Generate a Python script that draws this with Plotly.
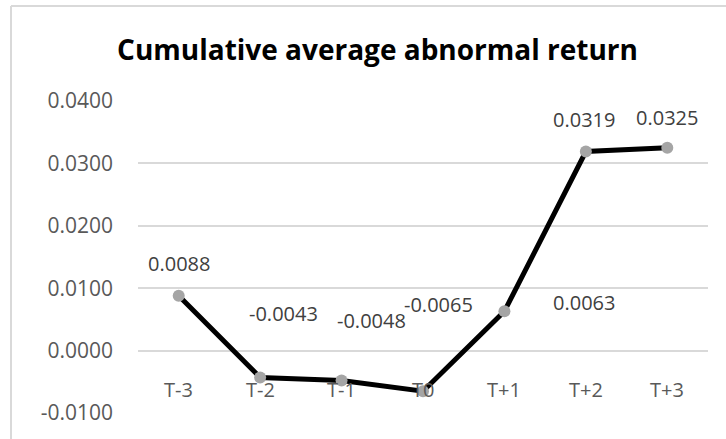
import plotly.graph_objects as go

categories = ["T-3", "T-2", "T-1", "T0", "T+1", "T+2", "T+3"]
values = [0.0088, -0.0043, -0.0048, -0.0065, 0.0063, 0.0319, 0.0325]
value_labels = ["0.0088", "-0.0043", "-0.0048", "-0.0065", "0.0063", "0.0319", "0.0325"]
y_ticks = [-0.01, 0.0, 0.01, 0.02, 0.03, 0.04]
y_tick_labels = ["-0.0100", "0.0000", "0.0100", "0.0200", "0.0300", "0.0400"]

# label offsets (pixels) as placed in the reference
label_dx = [0, 23, 30, 15, 80, -2, 0]
label_dy = [32, 64, 60, 87, 9, 32, 30]

FONT = "Open Sans"

fig = go.Figure()
fig.add_trace(go.Scatter(
    x=categories, y=values, mode="lines+markers",
    line=dict(color="black", width=5),
    marker=dict(color="#a5a5a5", size=12),
    hoverinfo="skip", showlegend=False,
))

ann = []
for c, v, t, dx, dy in zip(categories, values, value_labels, label_dx, label_dy):
    ann.append(dict(x=c, y=v, text=t, showarrow=False, xshift=dx, yshift=dy,
                    font=dict(family=FONT, size=20, color="#404040")))
for c in categories:
    ann.append(dict(x=c, y=0, text=c, showarrow=False, yshift=-39,
                    font=dict(family=FONT, size=20, color="#595959")))

W, H = 726, 439
ml, mr, mt, mb = 138, 18, 101, 26
pw, ph = W - ml - mr, H - mt - mb
bx = (11 - ml) / pw
by = (H - mb - 6) / ph

fig.update_layout(
    width=W, height=H,
    margin=dict(l=ml, r=mr, t=mt, b=mb),
    paper_bgcolor="white", plot_bgcolor="white",
    title=dict(text="<b>Cumulative average abnormal return</b>", x=0.52, xanchor="center",
               y=1 - 50 / H, yanchor="middle",
               font=dict(family=FONT, size=28, color="black")),
    xaxis=dict(type="category", range=[-0.5, 6.5], showticklabels=False,
               showgrid=False, zeroline=False, showline=False),
    yaxis=dict(range=[-0.01, 0.04], tickvals=y_ticks, ticktext=y_tick_labels,
               showgrid=True, gridcolor="#d9d9d9", gridwidth=1.5, zeroline=False,
               tickfont=dict(family=FONT, size=21, color="#595959"),
               ticks="", ticklabelstandoff=24, showline=False),
    annotations=ann,
    shapes=[
        dict(type="line", xref="paper", yref="paper", x0=bx, x1=1.3, y0=by, y1=by,
             line=dict(color="#d9d9d9", width=2)),
        dict(type="line", xref="paper", yref="paper", x0=bx, x1=bx, y0=by, y1=-0.3,
             line=dict(color="#d9d9d9", width=2)),
    ],
)

fig.write_html("out.html", config={"displayModeBar": False},
               post_script="document.body.style.margin='0';document.body.style.overflow='hidden';")
